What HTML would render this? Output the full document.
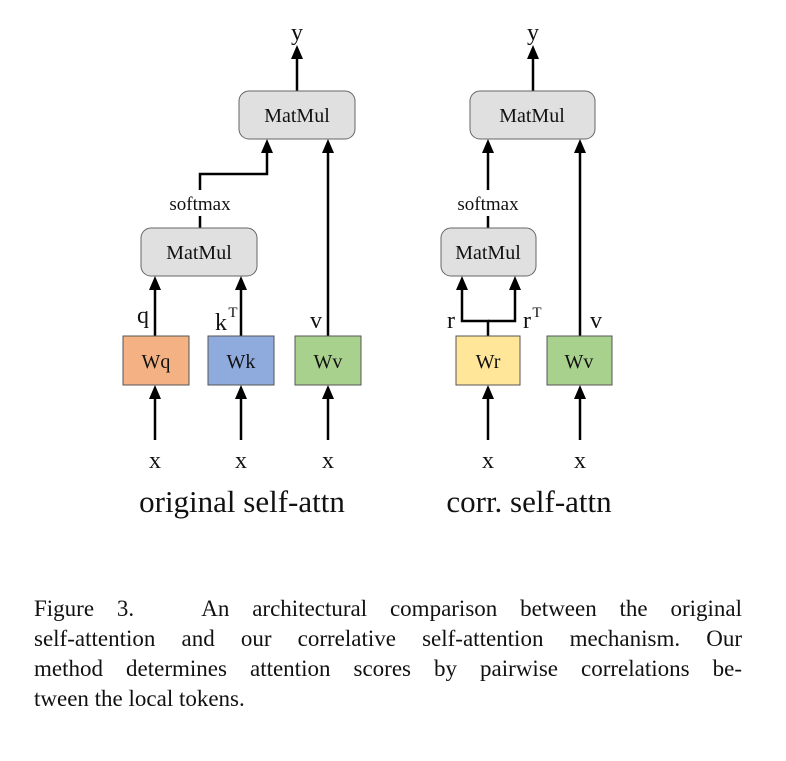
<!DOCTYPE html>
<html><head><style>
body{margin:0;background:#fff;width:786px;height:761px;position:relative;overflow:hidden;font-family:"Liberation Serif",serif;}
.l{position:absolute;left:34px;width:708px;font-size:23px;line-height:30px;color:#111;white-space:nowrap;text-align:justify;text-align-last:justify;}
</style></head><body>
<svg width="786" height="761" style="position:absolute;left:0;top:0" font-family="Liberation Serif, serif">
<g stroke="#000" stroke-width="2.5" fill="none">
<line x1="297" y1="91" x2="297" y2="56"/>
<polyline points="200,190 200,174 267,174 267,150"/>
<line x1="200" y1="228" x2="200" y2="216"/>
<line x1="155" y1="336" x2="155" y2="288"/>
<line x1="241" y1="336" x2="241" y2="288"/>
<line x1="328" y1="336" x2="328" y2="150"/>
<line x1="155" y1="440" x2="155" y2="397"/>
<line x1="241" y1="440" x2="241" y2="397"/>
<line x1="328" y1="440" x2="328" y2="397"/>
<line x1="533" y1="91" x2="533" y2="56"/>
<line x1="488" y1="190" x2="488" y2="150"/>
<line x1="488" y1="228" x2="488" y2="216"/>
<polyline points="488,336 488,321 462,321 462,288"/>
<polyline points="488,321 515,321 515,288"/>
<line x1="580" y1="336" x2="580" y2="150"/>
<line x1="488" y1="440" x2="488" y2="397"/>
<line x1="580" y1="440" x2="580" y2="397"/>
</g>
<g fill="#000">
<polygon points="291,59 297,45 303,59"/>
<polygon points="527,59 533,45 539,59"/>
<polygon points="261,153 267,139 273,153"/>
<polygon points="322,153 328,139 334,153"/>
<polygon points="482,153 488,139 494,153"/>
<polygon points="574,153 580,139 586,153"/>
<polygon points="149,290 155,276 161,290"/>
<polygon points="235,290 241,276 247,290"/>
<polygon points="456,290 462,276 468,290"/>
<polygon points="509,290 515,276 521,290"/>
<polygon points="149,399 155,385 161,399"/>
<polygon points="235,399 241,385 247,399"/>
<polygon points="322,399 328,385 334,399"/>
<polygon points="482,399 488,385 494,399"/>
<polygon points="574,399 580,385 586,399"/>
</g>
<g stroke="#666" stroke-width="1" fill="#e0e0e0">
<rect x="239" y="91" width="116" height="48" rx="10"/>
<rect x="141" y="228" width="116" height="48" rx="10"/>
<rect x="470" y="91" width="125" height="48" rx="10"/>
<rect x="441" y="228" width="95" height="48" rx="10"/>
</g>
<g stroke="#555" stroke-width="1">
<rect x="123" y="336" width="66" height="49" fill="#f4b183"/>
<rect x="208" y="336" width="66" height="49" fill="#8faadc"/>
<rect x="295" y="336" width="66" height="49" fill="#a9d18e"/>
<rect x="456" y="336" width="64" height="49" fill="#ffe699"/>
<rect x="547" y="336" width="65" height="49" fill="#a9d18e"/>
</g>
<g font-size="20" text-anchor="middle" fill="#111">
<text x="297" y="122">MatMul</text><text x="199" y="259">MatMul</text>
<text x="532" y="122">MatMul</text><text x="488" y="259">MatMul</text>
<text x="156" y="368">Wq</text><text x="241" y="368">Wk</text><text x="328" y="368">Wv</text>
<text x="488" y="368">Wr</text><text x="579" y="368">Wv</text>
<text x="200" y="210" font-size="19">softmax</text><text x="488" y="210" font-size="19">softmax</text>
</g>
<g font-size="24" text-anchor="middle" fill="#111">
<text x="297" y="40">y</text><text x="533" y="40">y</text>
<text x="143" y="323">q</text><text x="221" y="330">k</text><text x="233" y="317" font-size="15">T</text>
<text x="316" y="328">v</text>
<text x="451" y="328">r</text><text x="527" y="328">r</text><text x="537" y="317" font-size="15">T</text>
<text x="596" y="328">v</text>
<text x="155" y="468">x</text><text x="241" y="468">x</text><text x="328" y="468">x</text>
<text x="488" y="468">x</text><text x="580" y="468">x</text>
<text x="242" y="512" font-size="31">original self-attn</text>
<text x="529" y="512" font-size="31">corr. self-attn</text>
</g>
</svg>
<div class="l" style="top:594px">Figure 3.&nbsp;&nbsp; An architectural comparison between the original</div>
<div class="l" style="top:624px">self-attention and our correlative self-attention mechanism. Our</div>
<div class="l" style="top:654px">method determines attention scores by pairwise correlations be-</div>
<div class="l" style="top:684px;text-align-last:left">tween the local tokens.</div>
</body></html>
